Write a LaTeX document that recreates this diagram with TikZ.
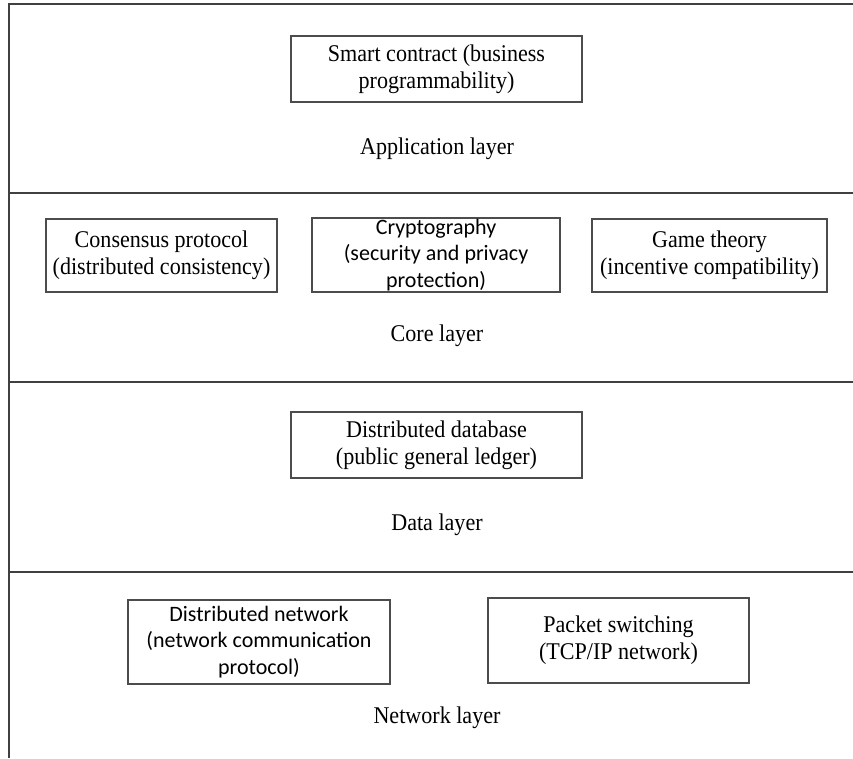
\documentclass[tikz,border=0pt]{standalone}
\usepackage{fontspec}
\setmainfont[FakeStretch=0.92]{Liberation Serif}
\newfontfamily\calib{Carlito}
\usetikzlibrary{positioning}

\begin{document}
\begin{tikzpicture}
[x=1pt, y=-1pt,
 font=\fontsize{24}{27}\selectfont,
 frame/.style={draw=black!75, line width=1.8pt},
 block/.style={draw=black!70, line width=1.5pt, align=center, inner sep=0pt},
 calibtext/.style={font=\calib\fontsize{22}{26.5}\selectfont},
 layer/.style={inner sep=0pt},
]
\useasboundingbox (0,0) rectangle (853,758);

% outer frame and layer separators
\draw[frame] (853,4) -- (9,4) -- (9,758);
\foreach \y in {193,382,572}
  \draw[frame] (9,\y) -- (853,\y);

% application layer
\node[block, minimum width=291pt, minimum height=66pt] (smart) at (436.5,69)
  {Smart contract (business\\programmability)};
\node[layer] (app) at (437,149) {Application layer};

% core layer
\node[block, minimum width=231pt, minimum height=73pt] (consensus) at (161.5,255.5)
  {Consensus protocol\\(distributed consistency)};
\node[block, calibtext, minimum width=248pt, minimum height=74pt] (crypto) at (436,255)
  {Cryptography\\(security and privacy\\protection)};
\node[block, minimum width=235pt, minimum height=73pt] (game) at (709.5,255.5)
  {Game theory\\(incentive compatibility)};
\node[layer] (core) at (437,336) {Core layer};

% data layer
\node[block, minimum width=291pt, minimum height=66pt] (database) at (436.5,445)
  {Distributed database\\(public general ledger)};
\node[layer] (data) at (437,525) {Data layer};

% network layer
\node[block, calibtext, minimum width=262pt, minimum height=84pt] (distnet) at (259,642)
  {Distributed network\\(network communication\\protocol)};
\node[block, minimum width=261pt, minimum height=85pt] (packet) at (618.5,640.5)
  {Packet switching\\(TCP/IP network)};
\node[layer] (net) at (437,718) {Network layer};
\end{tikzpicture}
\end{document}
